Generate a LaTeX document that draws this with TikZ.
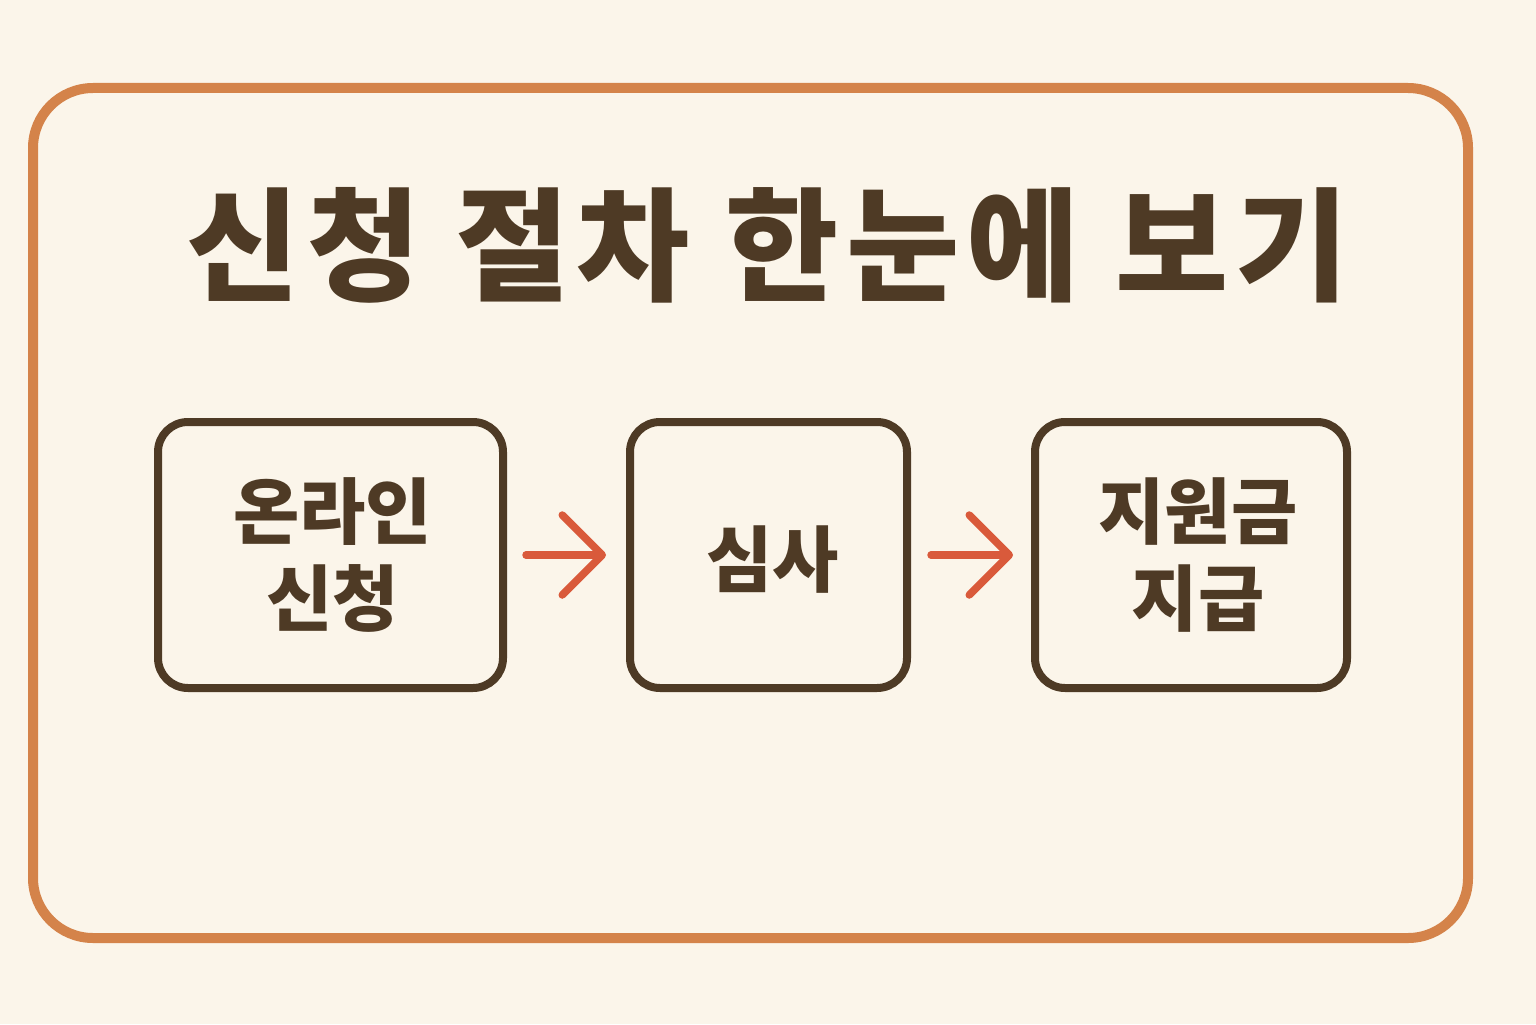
\documentclass[tikz,border=0pt]{standalone}
\usepackage{fontspec}
\newfontfamily\kr{Noto Sans CJK KR}
\newfontfamily\krtitle{Noto Sans CJK KR}[LetterSpace=6]
\usetikzlibrary{arrows.meta}
\definecolor{bgc}{HTML}{FBF5EA}
\definecolor{framec}{HTML}{D4834A}
\definecolor{brownc}{HTML}{4E3A25}
\definecolor{arrowc}{HTML}{D95A3B}
\tikzset{
  stepbox/.style={draw=brownc, line width=0.08cm, rounded corners=0.3cm, inner sep=0pt},
  boxtext/.style={text=brownc, font=\kr\bfseries\fontsize{20.5}{25}\selectfont, align=center},
  flow/.style={draw=arrowc, line width=0.075cm, line cap=round,
    -{Straight Barb[length=0.4cm,width=0.8cm,line cap=round,line join=round]}}
}
\begin{document}
\begin{tikzpicture}
\fill[bgc] (0,0) rectangle (15.36,10.24);
\useasboundingbox (0,0) rectangle (15.36,10.24);
\draw[framec, line width=0.1cm, rounded corners=0.6cm] (0.33,0.86) rectangle (14.68,9.36);
\node[text=brownc, font=\krtitle\bfseries\fontsize{35}{40}\selectfont] (title) at (7.68,7.79) {신청 절차 한눈에 보기};
\node[stepbox, minimum width=3.45cm, minimum height=2.66cm] (b1) at (3.305,4.69) {};
\node[stepbox, minimum width=2.77cm, minimum height=2.66cm] (b2) at (7.685,4.69) {};
\node[stepbox, minimum width=3.12cm, minimum height=2.66cm] (b3) at (11.91,4.69) {};
\node[boxtext] (t1) at ([xshift=0.02cm]b1) {온라인\\신청};
\node[boxtext] (t2) at ([xshift=0.04cm,yshift=-0.05cm]b2) {심사};
\node[boxtext] (t3) at ([xshift=0.07cm]b3) {지원금\\지급};
\draw[flow, shorten <=0.19cm, shorten >=0.2cm] (b1.east) -- (b2.west);
\draw[flow, shorten <=0.2cm, shorten >=0.18cm] (b2.east) -- (b3.west);
\end{tikzpicture}
\end{document}
